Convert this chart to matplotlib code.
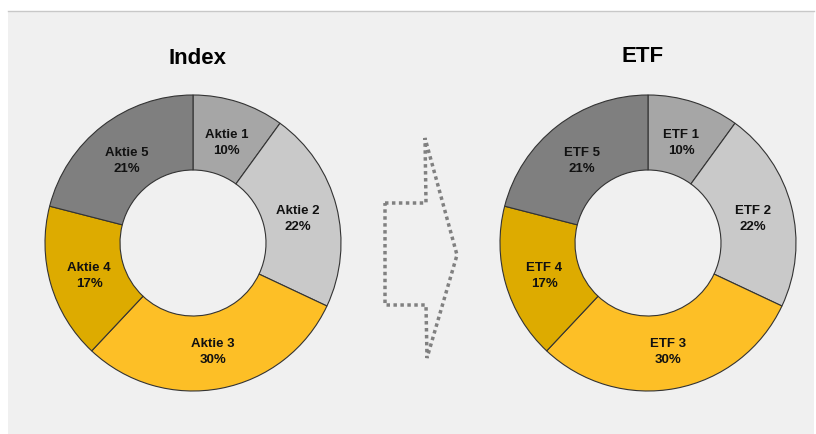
import numpy as np
import matplotlib.pyplot as plt
from matplotlib.patches import Rectangle, Polygon

plt.rcParams['font.family'] = ['Liberation Sans', 'DejaVu Sans']

# Daten
werte = [10, 22, 30, 17, 21]
index_namen = ['Aktie 1', 'Aktie 2', 'Aktie 3', 'Aktie 4', 'Aktie 5']
etf_namen = ['ETF 1', 'ETF 2', 'ETF 3', 'ETF 4', 'ETF 5']
farben = ['#a6a6a6', '#c9c9c9', '#fdbf26', '#ddab00', '#7f7f7f']

W, H = 816, 434
fig = plt.figure(figsize=(W / 100, H / 100), dpi=100)
fig.patch.set_facecolor('white')
ax = fig.add_axes([0, 0, 1, 1])

# Hintergrundfläche
ax.add_patch(Rectangle((8, 0), 806, H - 11, facecolor='#f0f0f0', edgecolor='none'))
ax.plot([8, 814], [H - 11, H - 11], color='#c8c8c8', lw=1)

def donut(cx, cy, namen, titel, tx, ty):
    wedges, _ = ax.pie(werte, colors=farben, startangle=90, counterclock=False,
                       center=(cx, H - cy), radius=148, frame=True,
                       wedgeprops=dict(width=75, edgecolor='#333333', linewidth=0.8))
    for w, name, v in zip(wedges, namen, werte):
        ang = np.deg2rad((w.theta1 + w.theta2) / 2)
        r = 108
        ax.text(cx + r * np.cos(ang), H - cy - 3 + r * np.sin(ang), f'{name}\n{v}%',
                ha='center', va='center', fontsize=9.5, fontweight='bold',
                color='#111111', linespacing=1.45)
    ax.text(tx, H - ty, titel, ha='center', va='center', fontsize=16,
            fontweight='bold', color='black')

donut(193, 243, index_namen, 'Index', 197, 58)
donut(648, 243, etf_namen, 'ETF', 643, 56)

# gepunkteter Pfeil
pfeil = [(385, 203), (426, 203), (425, 138), (457, 255), (427, 358), (426, 305), (385, 305)]
ax.add_patch(Polygon([(x, H - y) for x, y in pfeil], closed=True, fill=False,
                     edgecolor='#808080', linewidth=2.5, linestyle=(0, (1, 1))))

ax.set_xlim(0, W)
ax.set_ylim(0, H)
ax.set_aspect('auto')
ax.axis('off')

fig.savefig('out.png', dpi=100, facecolor='white')
